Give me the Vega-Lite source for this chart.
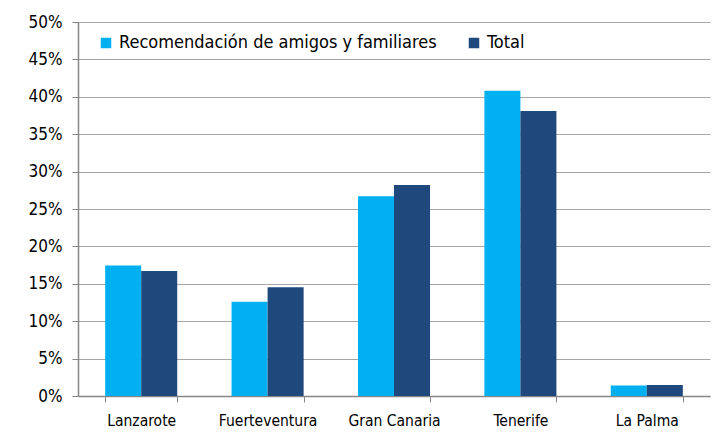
{
  "$schema": "https://vega.github.io/schema/vega-lite/v6.json",
  "width": 632,
  "height": 374,
  "autosize": {"type": "none"},
  "padding": {"left": 78, "top": 22, "right": 15, "bottom": 48},
  "background": "white",
  "config": {
    "font": "DejaVu Sans Condensed, Lato, sans-serif",
    "view": {"stroke": null},
    "axis": {"labelFont": "DejaVu Sans Condensed, Lato, sans-serif", "labelColor": "#000000", "domainColor": "#868686", "tickColor": "#868686", "gridColor": "#a6a6a6", "title": null, "labelOverlap": false}
  },
  "data": {
    "values": [
      {"isla": "Lanzarote", "serie": "Recomendación de amigos y familiares", "valor": 0.1745},
      {"isla": "Lanzarote", "serie": "Total", "valor": 0.167},
      {"isla": "Fuerteventura", "serie": "Recomendación de amigos y familiares", "valor": 0.126},
      {"isla": "Fuerteventura", "serie": "Total", "valor": 0.1455},
      {"isla": "Gran Canaria", "serie": "Recomendación de amigos y familiares", "valor": 0.267},
      {"isla": "Gran Canaria", "serie": "Total", "valor": 0.282},
      {"isla": "Tenerife", "serie": "Recomendación de amigos y familiares", "valor": 0.408},
      {"isla": "Tenerife", "serie": "Total", "valor": 0.381},
      {"isla": "La Palma", "serie": "Recomendación de amigos y familiares", "valor": 0.0139},
      {"isla": "La Palma", "serie": "Total", "valor": 0.0147}
    ]
  },
  "mark": {"type": "bar"},
  "encoding": {
    "x": {
      "field": "isla", "type": "nominal", "sort": null,
      "scale": {"paddingInner": 0.43, "paddingOuter": 0.215},
      "axis": {"labelAngle": 0, "labelFontSize": 15.5, "tickBand": "extent", "tickSize": 6, "labelPadding": 11, "domainWidth": 1.5, "grid": false}
    },
    "xOffset": {"field": "serie", "type": "nominal", "sort": null},
    "y": {
      "field": "valor", "type": "quantitative",
      "scale": {"domain": [0, 0.5], "nice": false},
      "axis": {"format": ".0%", "labelFontSize": 17, "values": [0, 0.05, 0.1, 0.15, 0.2, 0.25, 0.3, 0.35, 0.4, 0.45, 0.5], "tickSize": 6, "labelPadding": 10, "domainWidth": 1.5, "grid": true}
    },
    "color": {
      "field": "serie", "type": "nominal", "sort": null,
      "scale": {"range": ["#00b0f0", "#1f497d"]},
      "legend": {
        "title": null, "orient": "none", "direction": "horizontal",
        "legendX": 19, "legendY": 12,
        "symbolType": "square", "symbolSize": 110, "symbolStrokeWidth": 0,
        "labelFontSize": 18, "labelColor": "#000000", "labelLimit": 400,
        "labelFont": "DejaVu Sans Condensed, Lato, sans-serif",
        "columnPadding": 28, "labelOffset": 4
      }
    }
  }
}
